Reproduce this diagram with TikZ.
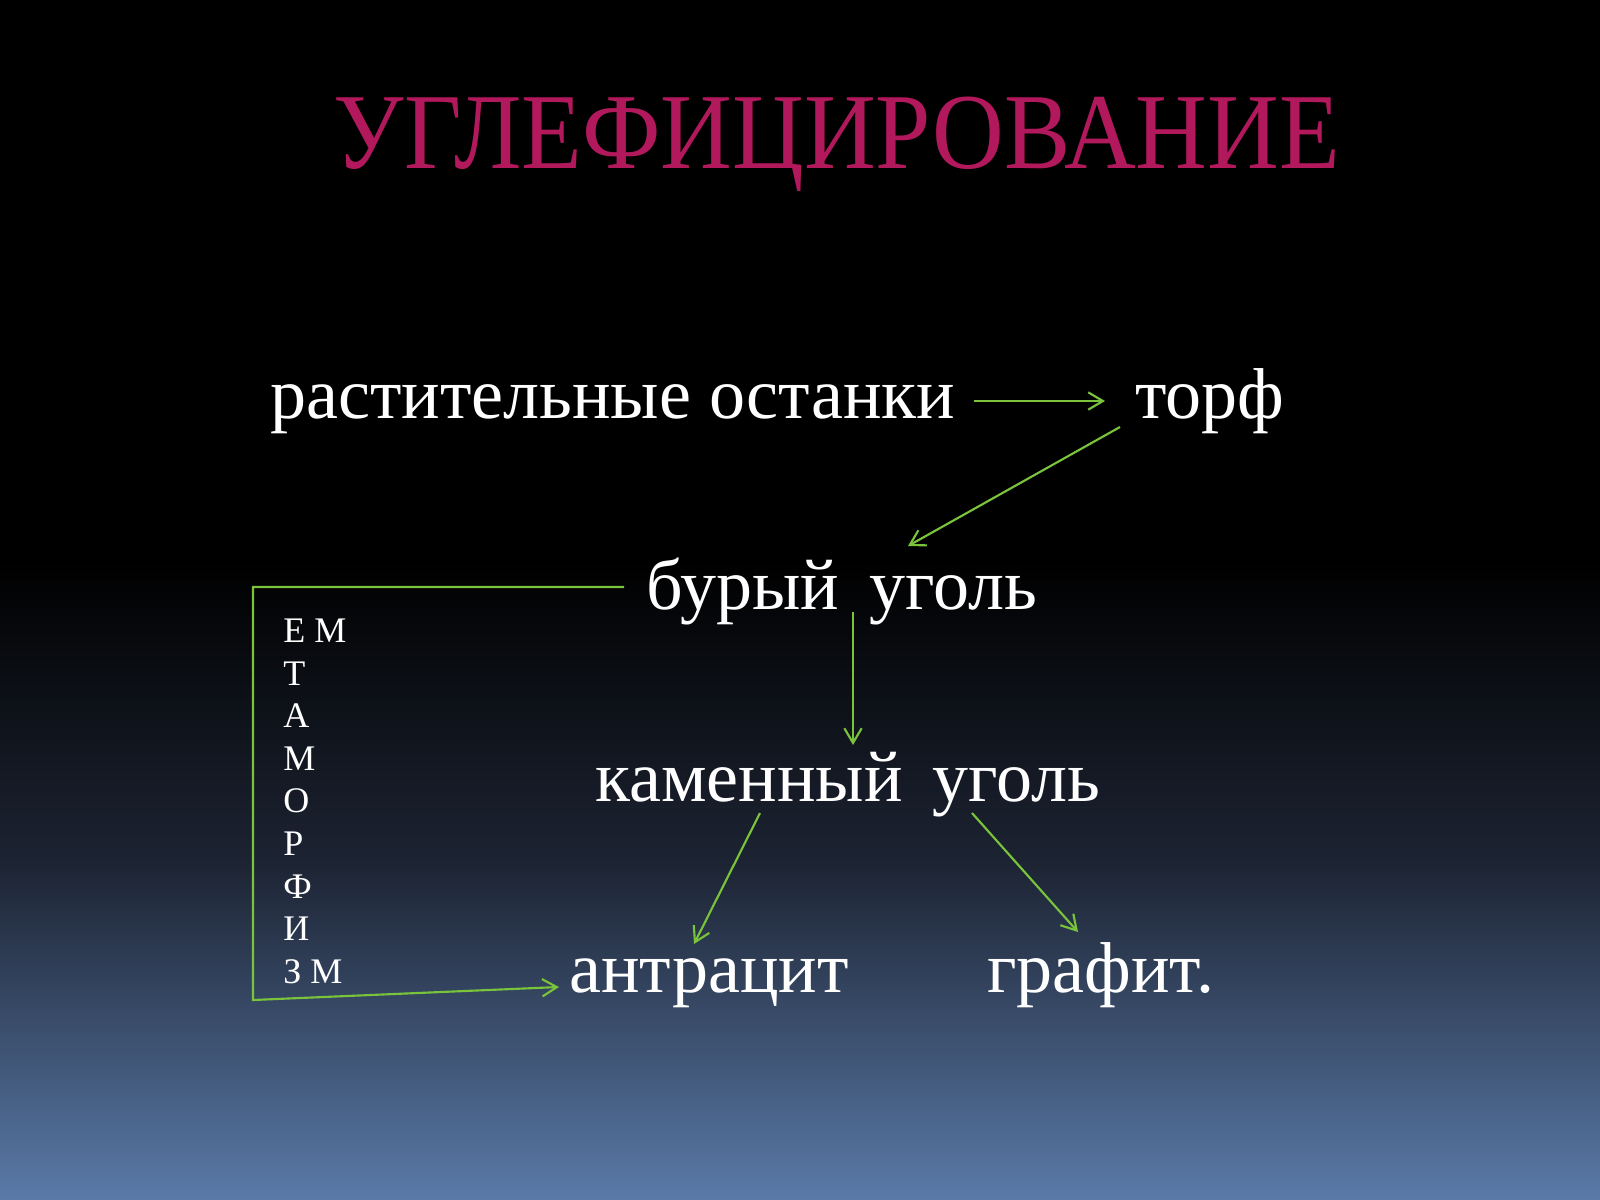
\documentclass[tikz,border=0pt]{standalone}
\usepackage{fontspec}
\setmainfont{Liberation Serif}
\usetikzlibrary{arrows.meta,calc}
\definecolor{titlec}{RGB}{178,24,92}
\definecolor{arrc}{RGB}{122,196,60}
\definecolor{bgmid}{RGB}{28,35,50}
\definecolor{bgbot}{RGB}{90,122,168}
\begin{document}
\begin{tikzpicture}[x=0.75pt,y=-0.75pt,
  txt/.style={text=white,font=\fontsize{54}{60}\selectfont,inner sep=0pt,anchor=base west},
  vl/.style={text=white,font=\fontsize{27}{30}\selectfont,inner sep=0pt,anchor=base west},
  arr/.style={draw=arrc,line width=1.6pt,-{Straight Barb[length=11pt,width=13pt]}},
  ln/.style={draw=arrc,line width=1.6pt}]
\useasboundingbox (0,0) rectangle (1600,1200);
\fill[black] (0,0) rectangle (1600,1200);
\shade[top color=black,bottom color=bgmid] (0,560) rectangle (1600,861);
\shade[top color=bgmid,bottom color=bgbot] (0,860) rectangle (1600,1200);

\node[anchor=base,text=titlec,font=\fontsize{81}{90}\selectfont,inner sep=0pt] (title) at (837,168) {\scalebox{0.92}[1]{УГЛЕФИЦИРОВАНИЕ}};

\node[txt] (rast) at (270,418) {растительные останки};
\node[txt] (torf) at (1135,418) {торф};
\node[txt] (bur) at (646,609) {бурый\hspace{0.42em}уголь};
\node[txt] (kam) at (595,801) {каменный\hspace{0.42em}уголь};
\node[txt] (antr) at (569,992) {антрацит};
\node[txt] (graf) at (987,992) {графит.};

\node[vl] (v1) at (283,642) {Е М};
\node[vl] (v2) at (283,685) {Т};
\node[vl] (v3) at (283,727) {А};
\node[vl] (v4) at (283,770) {М};
\node[vl] (v5) at (283,812) {О};
\node[vl] (v6) at (283,855) {Р};
\node[vl] (v7) at (283,898) {Ф};
\node[vl] (v8) at (283,940) {И};
\node[vl] (v9) at (283,983) {З М};

\draw[arr] ($(rast.base west)+(704,-17)$) -- ($(torf.base west)+(-30,-17)$);
\draw[arr] ($(torf.base west)+(-15,9)$) -- ($(bur.base west)+(262,-63)$);
\draw[arr] ($(bur.base west)+(207,3)$) -- ($(kam.base west)+(258,-56)$);
\draw[arr] ($(kam.base west)+(165,12)$) -- ($(antr.base west)+(125,-48)$);
\draw[arr] ($(kam.base west)+(377,12)$) -- ($(graf.base west)+(91,-60)$);
\draw[arr] ($(bur.base west)+(-22,-22)$) -- (253,587) -- (253,1000) -- ($(antr.base west)+(-10,-5)$);
\end{tikzpicture}
\end{document}
